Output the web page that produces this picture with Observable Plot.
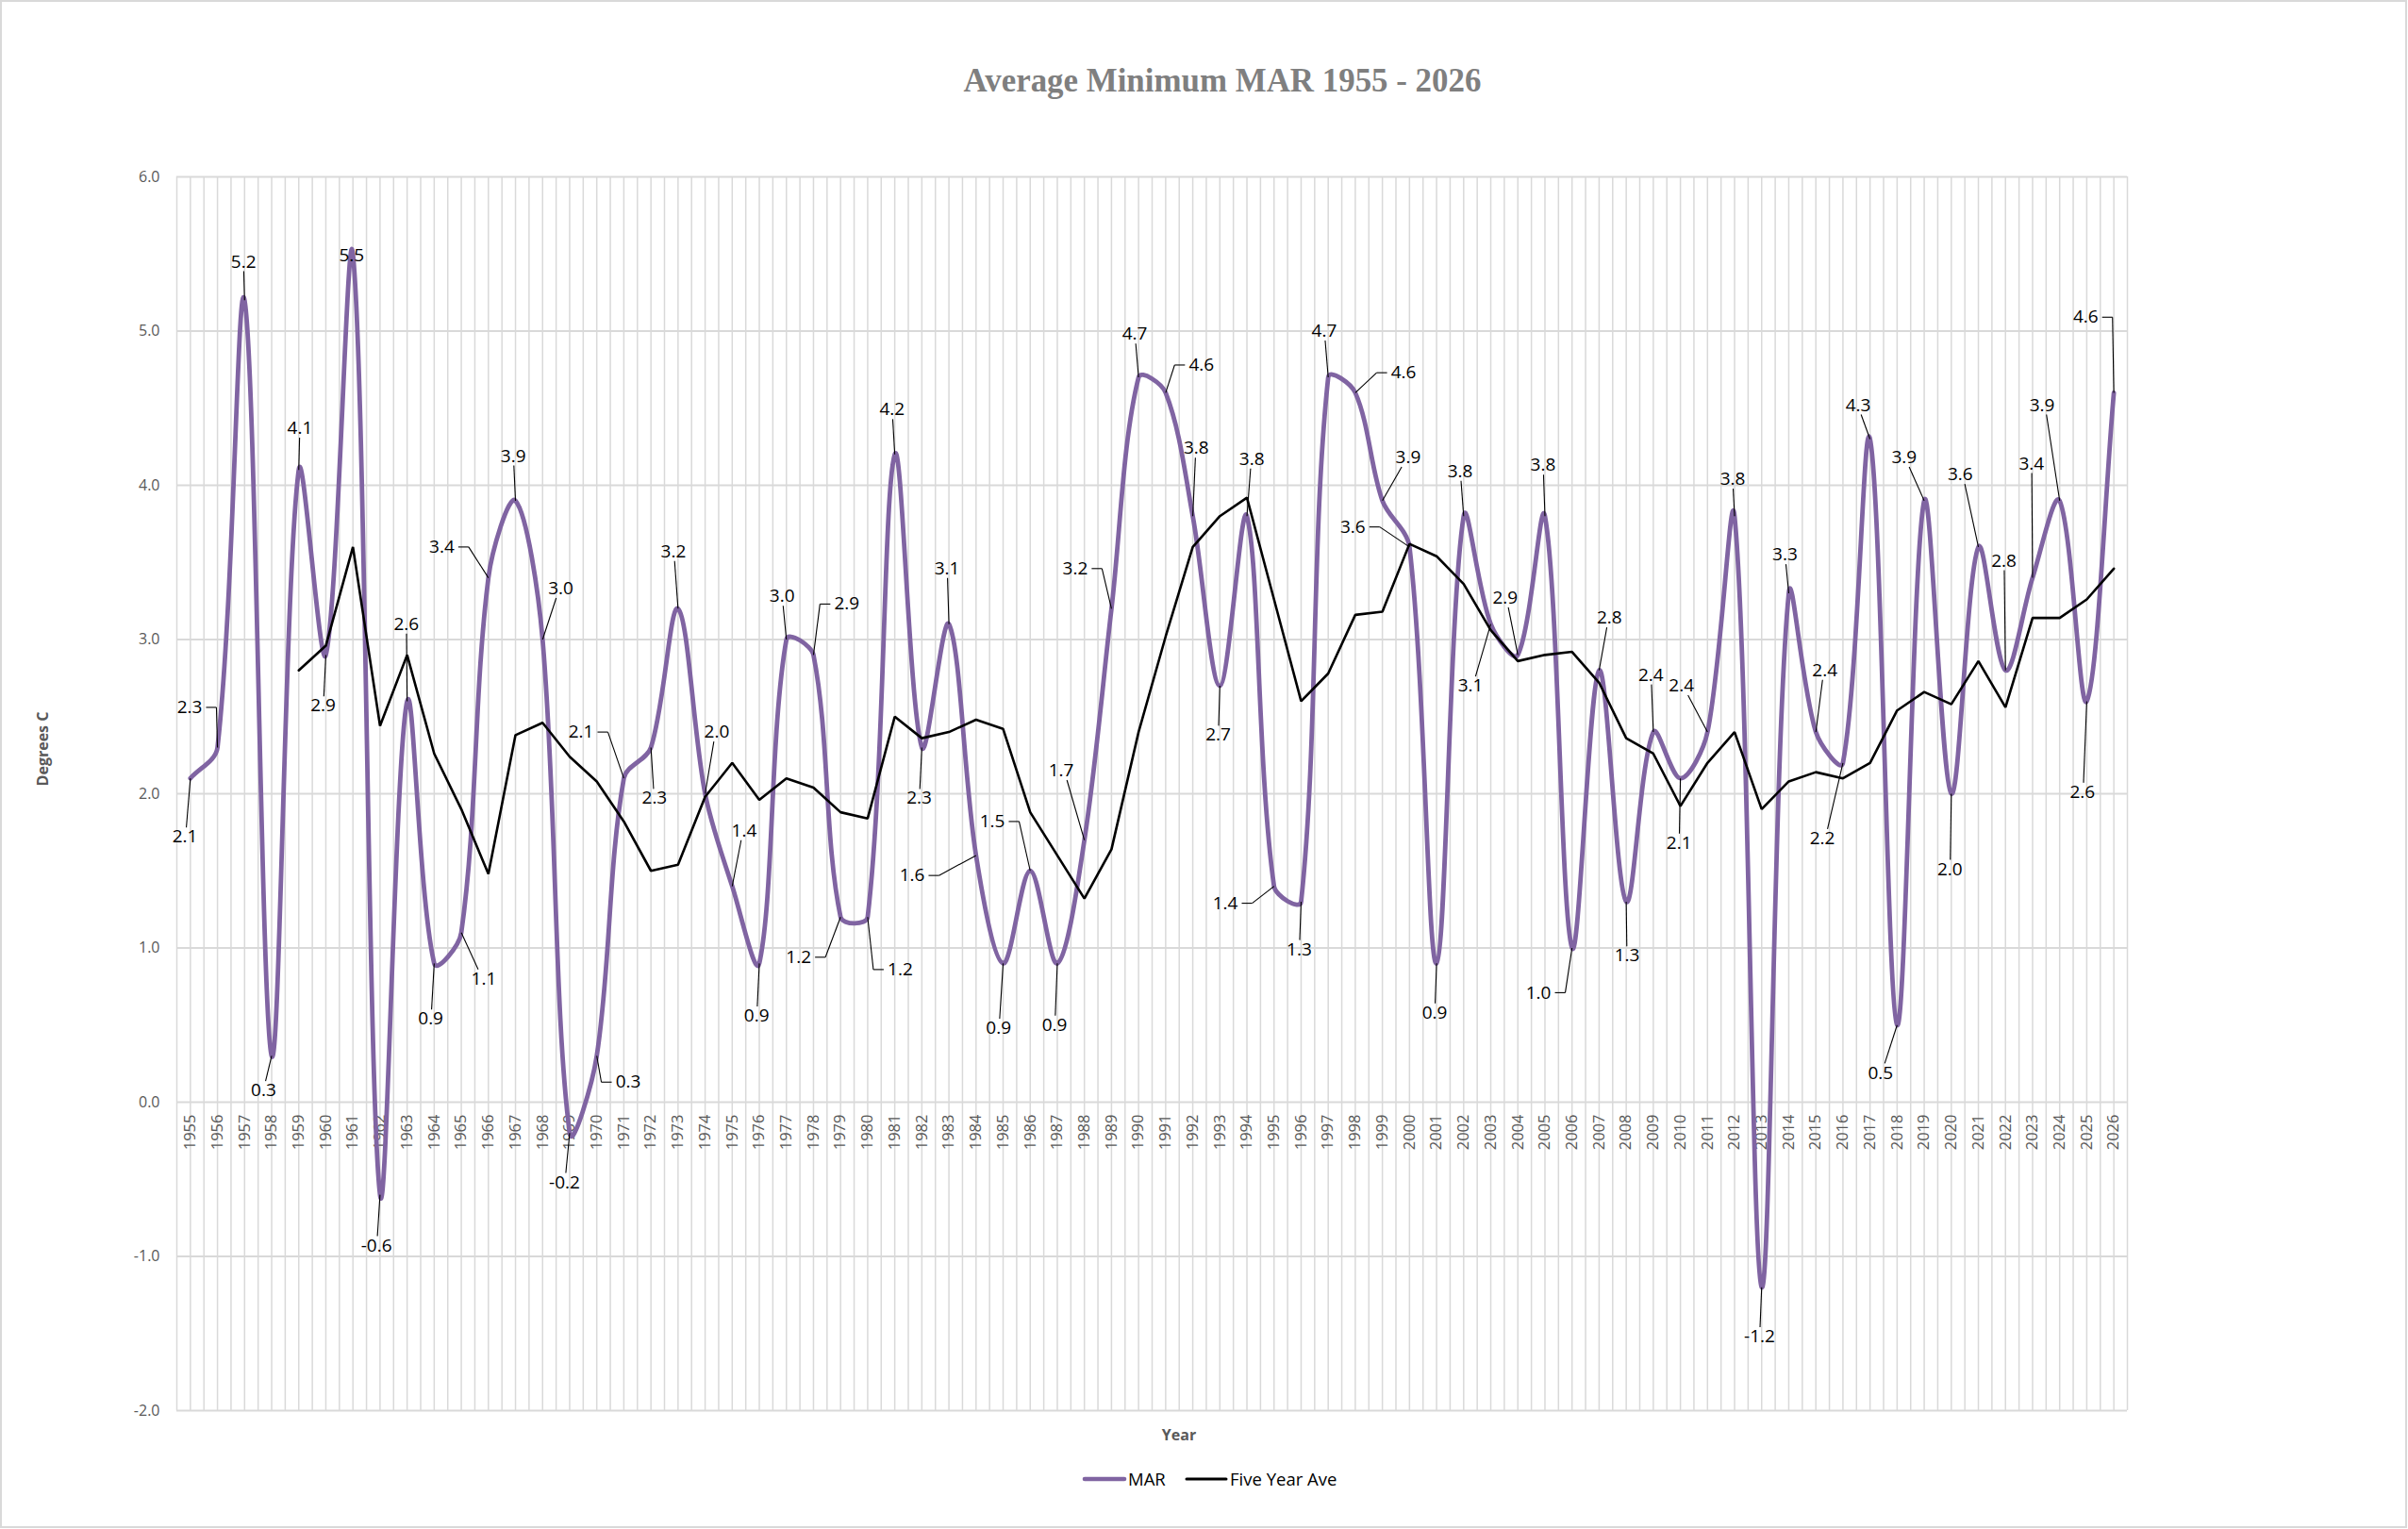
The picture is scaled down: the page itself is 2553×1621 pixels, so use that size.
<!DOCTYPE html>
<html>
<head>
<meta charset="utf-8">
<script src="https://cdn.jsdelivr.net/npm/d3@7"></script>
<script src="https://cdn.jsdelivr.net/npm/@observablehq/plot@0.6"></script>
<style>
html, body { margin: 0; padding: 0; background: #fff; }
#wrap { position: relative; width: 2553px; height: 1621px; overflow: hidden; background: #fff; }
#chart, #overlay { position: absolute; left: 0; top: 0; }
#frame { position: absolute; left: 0; top: 0; width: 2552px; height: 1620px; box-sizing: border-box; border: 2px solid #d9d9d9; pointer-events: none; }
</style>
</head>
<body>
<div id="wrap">
  <div id="chart"></div>
  <svg id="overlay" width="2553" height="1621"></svg>
  <div id="frame"></div>
</div>
<script>
// ---------------- data ----------------
const years = [1955, 1956, 1957, 1958, 1959, 1960, 1961, 1962, 1963, 1964,
  1965, 1966, 1967, 1968, 1969, 1970, 1971, 1972, 1973, 1974,
  1975, 1976, 1977, 1978, 1979, 1980, 1981, 1982, 1983, 1984,
  1985, 1986, 1987, 1988, 1989, 1990, 1991, 1992, 1993, 1994,
  1995, 1996, 1997, 1998, 1999, 2000, 2001, 2002, 2003, 2004,
  2005, 2006, 2007, 2008, 2009, 2010, 2011, 2012, 2013, 2014,
  2015, 2016, 2017, 2018, 2019, 2020, 2021, 2022, 2023, 2024,
  2025, 2026];

const mar = [2.1, 2.3, 5.2, 0.3, 4.1, 2.9, 5.5, -0.6, 2.6, 0.9,
  1.1, 3.4, 3.9, 3.0, -0.2, 0.3, 2.1, 2.3, 3.2, 2.0,
  1.4, 0.9, 3.0, 2.9, 1.2, 1.2, 4.2, 2.3, 3.1, 1.6,
  0.9, 1.5, 0.9, 1.7, 3.2, 4.7, 4.6, 3.8, 2.7, 3.8,
  1.4, 1.3, 4.7, 4.6, 3.9, 3.6, 0.9, 3.8, 3.1, 2.9,
  3.8, 1.0, 2.8, 1.3, 2.4, 2.1, 2.4, 3.8, -1.2, 3.3,
  2.4, 2.2, 4.3, 0.5, 3.9, 2.0, 3.6, 2.8, 3.4, 3.9,
  2.6, 4.6];

const aveYears = [1959, 1960, 1961, 1962, 1963, 1964, 1965, 1966, 1967, 1968,
  1969, 1970, 1971, 1972, 1973, 1974, 1975, 1976, 1977, 1978,
  1979, 1980, 1981, 1982, 1983, 1984, 1985, 1986, 1987, 1988,
  1989, 1990, 1991, 1992, 1993, 1994, 1995, 1996, 1997, 1998,
  1999, 2000, 2001, 2002, 2003, 2004, 2005, 2006, 2007, 2008,
  2009, 2010, 2011, 2012, 2013, 2014, 2015, 2016, 2017, 2018,
  2019, 2020, 2021, 2022, 2023, 2024, 2025, 2026];

const fiveYearAve = [2.80, 2.96, 3.60, 2.44, 2.90, 2.26, 1.90, 1.48, 2.38, 2.46,
  2.24, 2.08, 1.82, 1.50, 1.54, 1.98, 2.20, 1.96, 2.10, 2.04,
  1.88, 1.84, 2.50, 2.36, 2.40, 2.48, 2.42, 1.88, 1.60, 1.32,
  1.64, 2.40, 3.02, 3.60, 3.80, 3.92, 3.26, 2.60, 2.78, 3.16,
  3.18, 3.62, 3.54, 3.36, 3.06, 2.86, 2.90, 2.92, 2.72, 2.36,
  2.26, 1.92, 2.20, 2.40, 1.90, 2.08, 2.14, 2.10, 2.20, 2.54,
  2.66, 2.58, 2.86, 2.56, 3.14, 3.14, 3.26, 3.46];

const yTicks = [-2, -1, 0, 1, 2, 3, 4, 5, 6];

// data-label placement (in data units: year, degrees C)
const labelX = [1954.8, 1954.97, 1956.96, 1957.7, 1959.04, 1959.9, 1960.95, 1961.87, 1962.97, 1963.87,
  1965.83, 1964.28, 1966.92, 1968.67, 1968.81, 1971.16, 1969.42, 1972.13, 1972.83, 1974.43,
  1975.44, 1975.9, 1976.84, 1979.23, 1977.45, 1981.2, 1980.9, 1981.9, 1982.93, 1981.64,
  1984.83, 1984.6, 1986.9, 1987.14, 1987.66, 1989.86, 1992.32, 1992.13, 1992.94, 1994.18,
  1993.2, 1995.93, 1996.85, 1999.78, 1999.95, 1997.91, 2000.93, 2001.87, 2002.25, 2003.53,
  2004.93, 2004.76, 2007.38, 2008.03, 2008.91, 2009.95, 2010.04, 2011.93, 2012.92, 2013.86,
  2015.33, 2015.24, 2016.56, 2017.39, 2018.26, 2019.95, 2020.33, 2021.94, 2022.96, 2023.35,
  2024.84, 2024.96];
const labelY = [1.72, 2.56, 5.45, 0.075, 4.37, 2.57, 5.49, -0.93, 3.10, 0.54,
  0.80, 3.60, 4.19, 3.33, -0.52, 0.13, 2.40, 1.97, 3.57, 2.40,
  1.76, 0.56, 3.28, 3.23, 0.94, 0.86, 4.49, 1.97, 3.46, 1.47,
  0.48, 1.82, 0.50, 2.15, 3.46, 4.98, 4.78, 4.24, 2.38, 4.17,
  1.29, 0.99, 5.0, 4.73, 4.18, 3.73, 0.58, 4.09, 2.70, 3.27,
  4.13, 0.71, 3.14, 0.95, 2.77, 1.68, 2.70, 4.04, -1.52, 3.55,
  2.80, 1.71, 4.52, 0.19, 4.18, 1.51, 4.07, 3.51, 4.14, 4.52,
  2.01, 5.09];

// ---------------- layout ----------------
const W = 2553, H = 1621;
const mLeft = 187, mRight = 298, mTop = 187, mBottom = 126;
const xDomain = [1954.5, 2026.5], yDomain = [-2, 6];
const pxPerYear = (W - mLeft - mRight) / (xDomain[1] - xDomain[0]);
const pxPerDeg = (H - mTop - mBottom) / (yDomain[1] - yDomain[0]);
const fmt = v => v.toFixed(1);

// Excel-style smoothed line: cubic Bezier whose control points are scaled by adjacent segment lengths
function curveExcel(context) {
  let pts;
  const dist = (a, b) => Math.hypot(b[0] - a[0], b[1] - a[1]);
  return {
    areaStart() {}, areaEnd() {},
    lineStart() { pts = []; },
    point(x, y) { pts.push([+x, +y]); },
    lineEnd() {
      const n = pts.length;
      if (!n) return;
      context.moveTo(pts[0][0], pts[0][1]);
      for (let i = 0; i < n - 1; i++) {
        const p0 = pts[i - 1] || pts[i], p1 = pts[i], p2 = pts[i + 1], p3 = pts[i + 2] || pts[i + 1];
        const d01 = dist(p0, p1), d12 = dist(p1, p2), d23 = dist(p2, p3);
        const f1 = d01 + d12 > 0 ? d12 / (d01 + d12) / 3 : 0;
        const f2 = d12 + d23 > 0 ? d12 / (d12 + d23) / 3 : 0;
        context.bezierCurveTo(
          p1[0] + (p2[0] - p0[0]) * f1, p1[1] + (p2[1] - p0[1]) * f1,
          p2[0] - (p3[0] - p1[0]) * f2, p2[1] - (p3[1] - p1[1]) * f2,
          p2[0], p2[1]);
      }
    }
  };
}

// leader lines (Excel style): built from label and point positions in data units
const leaders = [];
years.forEach((yr, i) => {
  const v = mar[i], lx = labelX[i], ly = labelY[i];
  const t = fmt(v);
  const halfW = (t.replace(/[^0-9]/g, "").length * 10.9 + 5.1 + (t[0] === "-" ? 6.5 : 0)) / 2;
  const halfH = 10;
  const dxp = (yr - lx) * pxPerYear;
  const dyp = (v - ly) * pxPerDeg;
  if (Math.abs(dxp) < halfW + 2 && Math.abs(dyp) < halfH + 4) return;
  const s = Math.sign(dxp);
  if (Math.abs(dxp) > halfW + 15) {
    const sx = lx + s * (halfW + 4) / pxPerYear;
    let ex = lx + s * (halfW + 15) / pxPerYear;
    if (s * (ex - yr) > 0) ex = yr;
    leaders.push({x1: sx, y1: ly, x2: ex, y2: ly});
    leaders.push({x1: ex, y1: ly, x2: yr, y2: v});
  } else {
    const shift = Math.max(-halfW * 0.6, Math.min(halfW * 0.6, dxp * 0.25));
    const ax = lx + shift / pxPerYear;
    const ay = ly + Math.sign(dyp) * halfH / pxPerDeg;
    if (Math.hypot((yr - ax) * pxPerYear, (v - ay) * pxPerDeg) > 4)
      leaders.push({x1: ax, y1: ay, x2: yr, y2: v});
  }
});

const gridX = d3.range(xDomain[0], xDomain[1] + 0.25, 0.5);

const chart = Plot.plot({
  width: W,
  height: H,
  marginLeft: mLeft,
  marginRight: mRight,
  marginTop: mTop,
  marginBottom: mBottom,
  x: {domain: xDomain, axis: null},
  y: {domain: yDomain, axis: null},
  style: {background: "transparent", fontFamily: "'Open Sans', sans-serif", overflow: "visible"},
  marks: [
    Plot.ruleX(gridX, {stroke: "#d9d9d9", strokeWidth: 1.5}),
    Plot.ruleY(yTicks, {stroke: "#d9d9d9", strokeWidth: 2.2}),
    Plot.text(yTicks, {y: d => d, frameAnchor: "left", dx: -18, textAnchor: "end",
      text: d => fmt(d), fontSize: 16, fill: "#595959"}),
    Plot.text(years, {x: years, y: years.map(() => 0), text: years.map(String), rotate: -90,
      textAnchor: "end", dy: 13, fontSize: 16.5, fill: "#595959"}),
    Plot.line(years, {x: years, y: mar, stroke: "#8064A2", strokeWidth: 4.8,
      curve: curveExcel, strokeLinejoin: "round", strokeLinecap: "round"}),
    Plot.line(aveYears, {x: aveYears, y: fiveYearAve, stroke: "#000", strokeWidth: 2.6,
      strokeLinejoin: "miter"}),
    Plot.link(leaders, {x1: "x1", y1: "y1", x2: "x2", y2: "y2", stroke: "#000", strokeWidth: 1.1}),
    Plot.text(years, {x: labelX, y: labelY, text: mar.map(fmt), fontSize: 19, fill: "#000",
      textAnchor: "middle", lineAnchor: "middle"})
  ]
});
document.getElementById("chart").appendChild(chart);

// ---------------- title, axis titles, legend ----------------
const ov = d3.select("#overlay");
const title = ov.append("text")
  .attr("x", 1296).attr("y", 97)
  .attr("text-anchor", "middle")
  .attr("font-family", "'Liberation Serif', 'DejaVu Serif', serif")
  .attr("font-weight", "bold")
  .attr("fill", "#7f7f7f")
  .attr("font-size", 36)
  .text("Average Minimum MAR 1955 - 2026");
const tw = title.node().getComputedTextLength();
if (tw > 0) title.attr("font-size", 36 * 549 / tw);

ov.append("text")
  .attr("transform", "translate(51,794) rotate(-90)")
  .attr("text-anchor", "middle")
  .attr("font-family", "'Open Sans', sans-serif")
  .attr("font-weight", "bold")
  .attr("font-size", 16)
  .attr("fill", "#595959")
  .text("Degrees C");

ov.append("text")
  .attr("x", 1250).attr("y", 1527)
  .attr("text-anchor", "middle")
  .attr("font-family", "'Open Sans', sans-serif")
  .attr("font-weight", "bold")
  .attr("font-size", 16)
  .attr("fill", "#595959")
  .text("Year");

const legendItems = [
  {name: "MAR", color: "#8064A2", width: 4.6, x: 1150},
  {name: "Five Year Ave", color: "#000", width: 3, x: 1258}
];
legendItems.forEach(it => {
  ov.append("line")
    .attr("x1", it.x).attr("x2", it.x + 42)
    .attr("y1", 1568).attr("y2", 1568)
    .attr("stroke", it.color).attr("stroke-width", it.width)
    .attr("stroke-linecap", "round");
  ov.append("text")
    .attr("x", it.x + 46).attr("y", 1574.5)
    .attr("font-family", "'Open Sans', sans-serif")
    .attr("font-size", 18.5)
    .attr("fill", "#000")
    .text(it.name);
});
</script>
</body>
</html>
